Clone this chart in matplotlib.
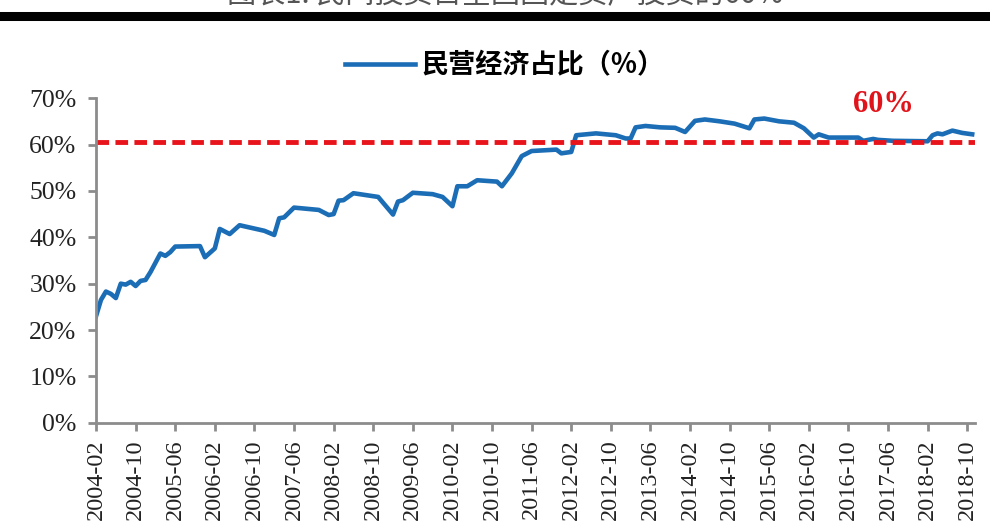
import matplotlib
matplotlib.use('Agg')
import matplotlib.pyplot as plt
from matplotlib.lines import Line2D

# 民营经济占固定资产投资比重，月度，关键拐点
months = ['2004-02', '2004-03', '2004-04', '2004-05', '2004-06', '2004-07', '2004-08',
          '2004-09', '2004-10', '2004-11', '2004-12', '2005-01', '2005-02', '2005-03',
          '2005-04', '2005-05', '2005-06', '2005-11', '2005-12', '2006-02', '2006-03',
          '2006-05', '2006-07', '2006-12', '2007-02', '2007-03', '2007-04', '2007-06',
          '2007-11', '2008-01', '2008-02', '2008-03', '2008-04', '2008-06', '2008-11',
          '2009-02', '2009-03', '2009-04', '2009-06', '2009-10', '2009-12', '2010-02',
          '2010-03', '2010-05', '2010-07', '2010-11', '2010-12', '2011-02', '2011-04',
          '2011-06', '2011-11', '2011-12', '2012-02', '2012-03', '2012-07', '2012-11',
          '2013-01', '2013-02', '2013-03', '2013-05', '2013-08', '2013-11', '2014-01',
          '2014-03', '2014-05', '2014-08', '2014-11', '2015-02', '2015-03', '2015-05',
          '2015-08', '2015-11', '2016-01', '2016-03', '2016-04', '2016-06', '2016-12',
          '2017-01', '2017-03', '2017-04', '2017-07', '2018-02', '2018-03', '2018-04',
          '2018-05', '2018-07', '2018-09', '2018-11']
share = [23.0, 26.5, 28.3, 27.8, 26.9, 30.0, 29.8,
         30.4, 29.5, 30.6, 30.8, 32.5, 34.5, 36.5,
         36.0, 36.8, 38.0, 38.1, 35.7, 37.6, 41.8,
         40.7, 42.6, 41.4, 40.5, 44.1, 44.3, 46.4,
         45.9, 44.8, 45.0, 47.9, 48.0, 49.5, 48.7,
         44.9, 47.7, 48.0, 49.6, 49.3, 48.7, 46.7,
         51.0, 51.0, 52.3, 52.0, 51.0, 53.8, 57.5,
         58.6, 58.9, 58.1, 58.4, 62.0, 62.4, 62.0,
         61.3, 61.3, 63.7, 64.0, 63.7, 63.6, 62.7,
         65.1, 65.4, 65.0, 64.5, 63.5, 65.4, 65.6,
         65.0, 64.7, 63.5, 61.5, 62.2, 61.5, 61.5,
         60.8, 61.2, 61.0, 60.8, 60.7, 62.0, 62.4,
         62.2, 63.0, 62.5, 62.2]
threshold = 60.5

tick_labels = ['2004-02', '2004-10', '2005-06', '2006-02', '2006-10', '2007-06',
               '2008-02', '2008-10', '2009-06', '2010-02', '2010-10', '2011-06',
               '2012-02', '2012-10', '2013-06', '2014-02', '2014-10', '2015-06',
               '2016-02', '2016-10', '2017-06', '2018-02', '2018-10']


def month_index(s):
    y, m = s.split('-')
    return (int(y) - 2004) * 12 + int(m) - 2


x = [month_index(s) for s in months]
ticks = [month_index(s) for s in tick_labels]

serif = ['Liberation Serif', 'DejaVu Serif']
cjk = ['Noto Sans CJK SC', 'DejaVu Sans']

fig = plt.figure(figsize=(9.9, 5.22), dpi=100)
ax = fig.add_axes([0.097, 0.19, 0.888, 0.622])

line, = ax.plot(x, share, color='#1b6db6', lw=3.3, solid_joinstyle='round')
ax.axhline(threshold, color='#e8141b', lw=3.5, ls=(0, (2.6, 1.3)))
ax.text(153, 65.4, '60%', color='#e0141b', fontsize=22, fontweight='bold',
        family=serif, ha='left', va='bottom')

ax.set_xlim(0, 177.6)
ax.set_ylim(0, 70)
ax.set_yticks(range(0, 71, 10))
ax.set_yticklabels([f'{v}%' for v in range(0, 71, 10)], family=serif, fontsize=18.5,
                   color='#222222')
ax.set_xticks(ticks)
ax.set_xticklabels(tick_labels, rotation=90, family=serif, fontsize=17.5, color='#222222')

for side in ['top', 'right']:
    ax.spines[side].set_visible(False)
for side in ['left', 'bottom']:
    ax.spines[side].set_color('#8c8c8c')
    ax.spines[side].set_linewidth(2)
ax.tick_params(axis='both', color='#8c8c8c', width=2, length=6, direction='out')
ax.tick_params(axis='y', pad=8)
ax.tick_params(axis='x', pad=6)

ax.legend([line], ['民营经济占比（%）'], loc='center', bbox_to_anchor=(0.465, 1.1),
          frameon=False, handlelength=2.6, handletextpad=0.25,
          prop={'family': cjk, 'size': 19.5, 'weight': 'bold'})

# 顶部标题与分隔粗线
fig.text(0.51, 1.012, '图表1: 民间投资占全国固定资产投资的60%', ha='center', va='center',
         fontsize=21, color='#555555', family=cjk)
fig.add_artist(Line2D([0, 1], [0.97, 0.97], transform=fig.transFigure,
                      color='black', lw=6.5))

fig.savefig('out.png', dpi=100)
